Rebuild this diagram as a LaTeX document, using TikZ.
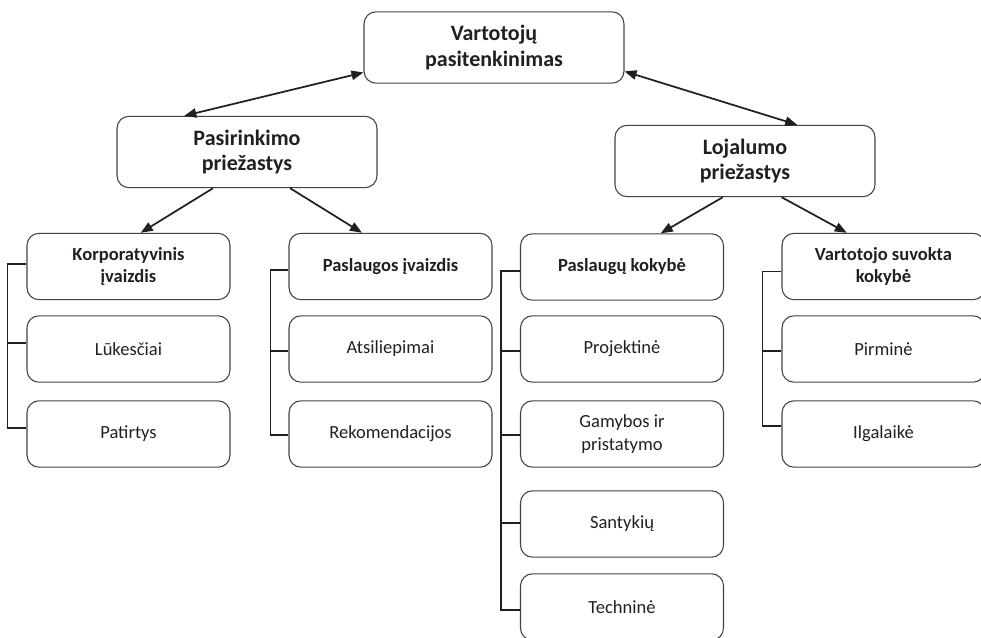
\documentclass[tikz,border=0pt]{standalone}
\usepackage{fontspec}
\setmainfont{Carlito}
\usetikzlibrary{calc,arrows.meta}
\definecolor{txt}{HTML}{231F20}
\begin{document}
\begin{tikzpicture}[x=0.75pt,y=-0.75pt,
 box/.style={draw=txt!85, line width=0.8pt, rounded corners=9pt, align=center, text=txt, inner sep=0pt},
 big/.style={box, minimum width=195pt, minimum height=53.5pt, font=\fontsize{16.5}{19}\selectfont\bfseries},
 sub/.style={box, minimum width=152.25pt, minimum height=49.8pt, font=\fontsize{13.9}{17}\selectfont},
 head/.style={sub, font=\fontsize{13.9}{16.5}\selectfont\bfseries},
 tip/.tip={Triangle[length=9pt,width=7pt]},
 arr/.style={line width=1.3pt, draw=txt, -tip},
 dbl/.style={line width=1.3pt, draw=txt, tip-tip},
 brk/.style={line width=0.8pt, draw=txt}]
\useasboundingbox (0,0) rectangle (981,638);

% level 0 / 1
\node[big] (top) at (494,47.5) {Vartotojų\\pasitenkinimas};
\node[big] (pas) at (247,152) {Pasirinkimo\\priežastys};
\node[big] (loj) at (745,161) {Lojalumo\\priežastys};

% column A
\node[head] (A1) at (128.5,266.5) {Korporatyvinis\\įvaizdis};
\node[sub]  (A2) at (128.5,349) {Lūkesčiai};
\node[sub]  (A3) at (128.5,434) {Patirtys};
% column B
\node[head] (B1) at (390.5,266.5) {Paslaugos įvaizdis};
\node[sub]  (B2) at (390.5,349) {Atsiliepimai};
\node[sub]  (B3) at (390.5,434) {Rekomendacijos};
% column C
\node[head] (C1) at (622,267) {Paslaugų kokybė};
\node[sub]  (C2) at (622,349) {Projektinė};
\node[sub]  (C3) at (622,434) {Gamybos ir\\pristatymo};
\node[sub]  (C4) at (622,524) {Santykių};
\node[sub]  (C5) at (622,607) {Techninė};
% column D
\node[head] (D1) at (883.5,266.5) {Vartotojo suvokta\\kokybė};
\node[sub]  (D2) at (883.5,349) {Pirminė};
\node[sub]  (D3) at (883.5,434) {Ilgalaikė};

% arrows
\draw[dbl] ($(top.north west)!0.845!(top.south west)$) -- ($(pas.north west)!0.26!(pas.north east)$);
\draw[dbl] ($(top.north east)!0.83!(top.south east)$) -- ($(loj.north west)!0.70!(loj.north east)$);
\draw[arr] ($(pas.south west)!0.37!(pas.south east)$) -- ($(A1.north west)!0.56!(A1.north east)$);
\draw[arr] ($(pas.south west)!0.665!(pas.south east)$) -- ($(B1.north west)!0.36!(B1.north east)$);
\draw[arr] ($(loj.south west)!0.415!(loj.south east)$) -- ($(C1.north west)!0.69!(C1.north east)$);
\draw[arr] ($(loj.south west)!0.64!(loj.south east)$) -- ($(D1.north west)!0.32!(D1.north east)$);

% brackets
\draw[brk] ([yshift=1.9pt]A1.west) -- ++(-19,0) |- ([yshift=4.5pt]A3.west);
\draw[brk] ([yshift=4.5pt]A2.west) -- ++(-19,0);

\draw[brk] ([yshift=-2.6pt]B1.west) -- ++(-18,0) |- ([yshift=-0.75pt]B3.west);
\draw[brk] ([yshift=-1.5pt]B2.west) -- ++(-18,0);

\draw[brk] ([yshift=-3pt]C1.west) -- ++(-19,0) |- ([yshift=-2.25pt]C5.west);
\draw[brk] ([yshift=-1.5pt]C2.west) -- ++(-19,0);
\draw[brk] ([yshift=-0.75pt]C3.west) -- ++(-19,0);
\draw[brk] ([yshift=0.75pt]C4.west) -- ++(-19,0);

\draw[brk] ([yshift=-3.4pt]D1.west) -- ++(-19,0) |- ([yshift=6pt]D3.west);
\draw[brk] ([yshift=-1.5pt]D2.west) -- ++(-19,0);
\end{tikzpicture}
\end{document}
